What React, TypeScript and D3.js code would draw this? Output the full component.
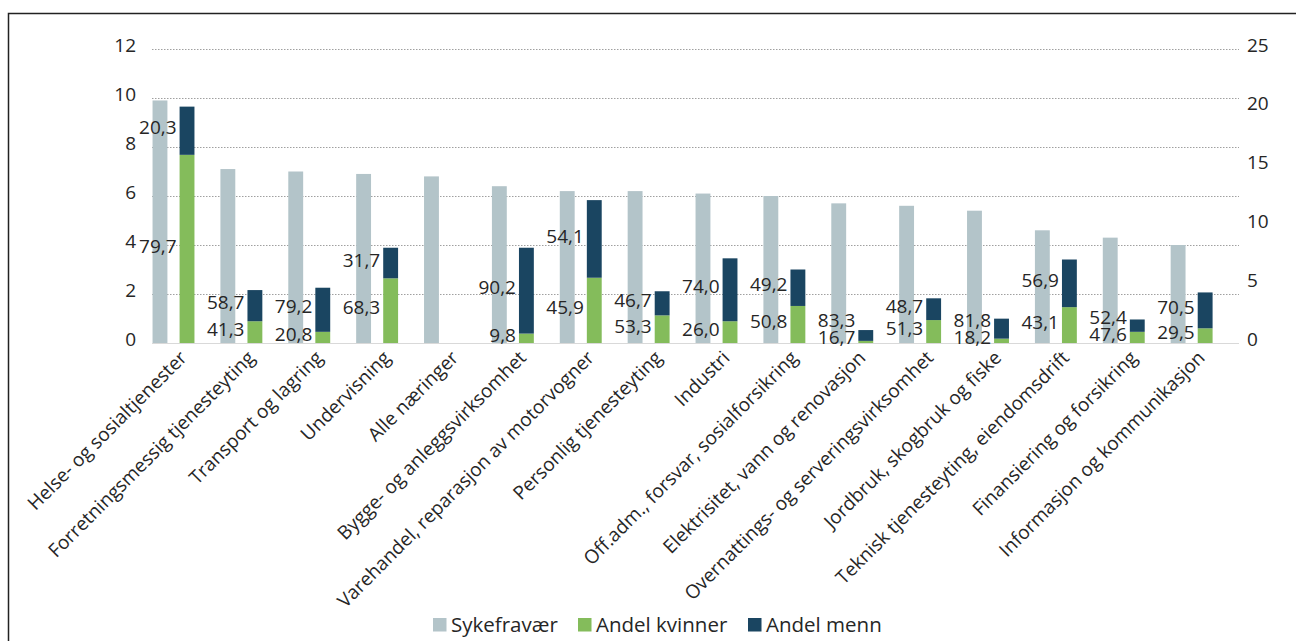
import React, { useEffect, useRef } from 'react';
import * as d3 from 'd3';

const CATEGORIES = [
  'Helse- og sosialtjenester',
  'Forretningsmessig tjenesteyting',
  'Transport og lagring',
  'Undervisning',
  'Alle næringer',
  'Bygge- og anleggsvirksomhet',
  'Varehandel, reparasjon av motorvogner',
  'Personlig tjenesteyting',
  'Industri',
  'Off.adm., forsvar, sosialforsikring',
  'Elektrisitet, vann og renovasjon',
  'Overnattings- og serveringsvirksomhet',
  'Jordbruk, skogbruk og fiske',
  'Teknisk tjenesteyting, eiendomsdrift',
  'Finansiering og forsikring',
  'Informasjon og kommunikasjon',
];

// left axis
const SYKEFRAVAER = [9.9, 7.1, 7.0, 6.9, 6.8, 6.4, 6.2, 6.2, 6.1, 6.0, 5.7, 5.6, 5.4, 4.6, 4.3, 4.0];

// right axis, stacked
const KVINNER = [16.0, 1.85, 0.95, 5.5, 0, 0.8, 5.55, 2.35, 1.85, 3.15, 0.18, 1.95, 0.37, 3.05, 0.95, 1.25];
const MENN = [4.1, 2.65, 3.75, 2.6, 0, 7.3, 6.6, 2.05, 5.35, 3.1, 0.92, 1.85, 1.7, 4.05, 1.05, 3.05];

const KVINNER_LABELS = ['79,7', '41,3', '20,8', '68,3', '', '9,8', '45,9', '53,3', '26,0', '50,8', '16,7', '51,3', '18,2', '43,1', '47,6', '29,5'];
const MENN_LABELS = ['20,3', '58,7', '79,2', '31,7', '', '90,2', '54,1', '46,7', '74,0', '49,2', '83,3', '48,7', '81,8', '56,9', '52,4', '70,5'];

const LEFT_TICKS = [0, 2, 4, 6, 8, 10, 12];
const RIGHT_TICKS = [0, 5, 10, 15, 20, 25];

const LEGEND = [
  { key: 'Sykefravær', color: '#b3c4c9' },
  { key: 'Andel kvinner', color: '#84bc5b' },
  { key: 'Andel menn', color: '#1a4561' },
];

const FONT = '"Open Sans", sans-serif';
const TEXT = '#262626';

const App: React.FC = () => {
  const svgRef = useRef<SVGSVGElement>(null);

  useEffect(() => {
    document.body.style.margin = '0';
    if (!svgRef.current) return;
    d3.select(svgRef.current).selectAll('*').remove();

    const W = 1296;
    const H = 641;
    const svg = d3.select(svgRef.current).attr('width', W).attr('height', H);

    // outer frame, runs off the right and bottom edge
    svg.append('rect')
      .attr('x', 8.5).attr('y', 13.5)
      .attr('width', 1320).attr('height', 700)
      .attr('fill', '#fff')
      .attr('stroke', '#222').attr('stroke-width', 1.5);

    const x0 = 152, x1 = 1238, yBase = 343, yTop = 49;

    const x = d3.scaleBand<string>().domain(CATEGORIES).range([x0, x1]).padding(0);
    const sub = d3.scaleBand<string>().domain(['syke', 'andel']).range([0, 43]).paddingInner(0.45).paddingOuter(0.02);
    const yL = d3.scaleLinear().domain([0, 12]).range([yBase, yTop]);
    const yR = d3.scaleLinear().domain([0, 25]).range([yBase, yTop]);

    // dotted gridlines (left axis)
    svg.selectAll('.grid')
      .data(LEFT_TICKS.filter(d => d > 0))
      .enter()
      .append('line')
      .attr('x1', x0).attr('x2', x1 + 1)
      .attr('y1', d => yL(d) + 0.5).attr('y2', d => yL(d) + 0.5)
      .attr('stroke', '#a0a0a0')
      .attr('stroke-width', 1)
      .attr('stroke-dasharray', '1.5,1.5');

    svg.append('line')
      .attr('x1', x0).attr('x2', x1 + 1)
      .attr('y1', yBase + 0.5).attr('y2', yBase + 0.5)
      .attr('stroke', '#d9d9d9').attr('stroke-width', 1);

    // tick labels
    svg.selectAll('.tl')
      .data(LEFT_TICKS)
      .enter()
      .append('text')
      .attr('x', 136)
      .attr('y', d => yL(d) - 4)
      .attr('dy', '0.35em')
      .attr('text-anchor', 'end')
      .style('font-family', FONT).style('font-size', '19px')
      .attr('fill', TEXT)
      .text(d => d);

    svg.selectAll('.tr')
      .data(RIGHT_TICKS)
      .enter()
      .append('text')
      .attr('x', 1247)
      .attr('y', d => yR(d) - 4)
      .attr('dy', '0.35em')
      .attr('text-anchor', 'start')
      .style('font-family', FONT).style('font-size', '19px')
      .attr('fill', TEXT)
      .text(d => d);

    const bw = sub.bandwidth();

    // Sykefravær bars
    svg.selectAll('.syke')
      .data(CATEGORIES)
      .enter()
      .append('rect')
      .attr('x', d => (x(d) as number) + (sub('syke') as number))
      .attr('y', (d, i) => yL(SYKEFRAVAER[i]))
      .attr('width', bw)
      .attr('height', (d, i) => yBase - yL(SYKEFRAVAER[i]))
      .attr('fill', LEGEND[0].color);

    // stacked kvinner / menn
    CATEGORIES.forEach((c, i) => {
      const total = KVINNER[i] + MENN[i];
      if (total <= 0) return;
      const bx = (x(c) as number) + (sub('andel') as number);
      svg.append('rect')
        .attr('x', bx).attr('y', yR(KVINNER[i]))
        .attr('width', bw).attr('height', yBase - yR(KVINNER[i]))
        .attr('fill', LEGEND[1].color);
      svg.append('rect')
        .attr('x', bx).attr('y', yR(total))
        .attr('width', bw).attr('height', yR(KVINNER[i]) - yR(total))
        .attr('fill', LEGEND[2].color);

      // labels sit left of the bar, nudged apart when they collide
      let yK = (yBase + yR(KVINNER[i])) / 2 - 3;
      let yM = (yR(KVINNER[i]) + yR(total)) / 2 - 3;
      yK = Math.min(yK, 337);
      if (yK - yM < 17) yM = yK - 17;

      [[KVINNER_LABELS[i], yK], [MENN_LABELS[i], yM]].forEach(([t, yy]) => {
        svg.append('text')
          .attr('x', bx - 3)
          .attr('y', yy as number)
          .attr('dy', '0.35em')
          .attr('text-anchor', 'end')
          .style('font-family', FONT).style('font-size', '19px')
          .attr('fill', TEXT)
          .text(t as string);
      });
    });

    // category labels, rotated
    svg.selectAll('.cat')
      .data(CATEGORIES)
      .enter()
      .append('text')
      .attr('transform', d => `translate(${(x(d) as number) + x.bandwidth() / 2 + 2},${yBase + 16}) rotate(-45)`)
      .attr('text-anchor', 'end')
      .style('font-family', FONT).style('font-size', '19px')
      .attr('fill', TEXT)
      .text(d => d);

    // legend
    const legendX = [433, 578, 748];
    LEGEND.forEach((l, i) => {
      svg.append('rect')
        .attr('x', legendX[i]).attr('y', 618)
        .attr('width', 13.5).attr('height', 13.5)
        .attr('fill', l.color);
      svg.append('text')
        .attr('x', legendX[i] + 18)
        .attr('y', 625)
        .attr('dy', '0.35em')
        .style('font-family', FONT).style('font-size', '20.5px')
        .attr('fill', TEXT)
        .text(l.key);
    });
  }, []);

  return <svg ref={svgRef} style={{ display: 'block' }}></svg>;
};

export default App;
